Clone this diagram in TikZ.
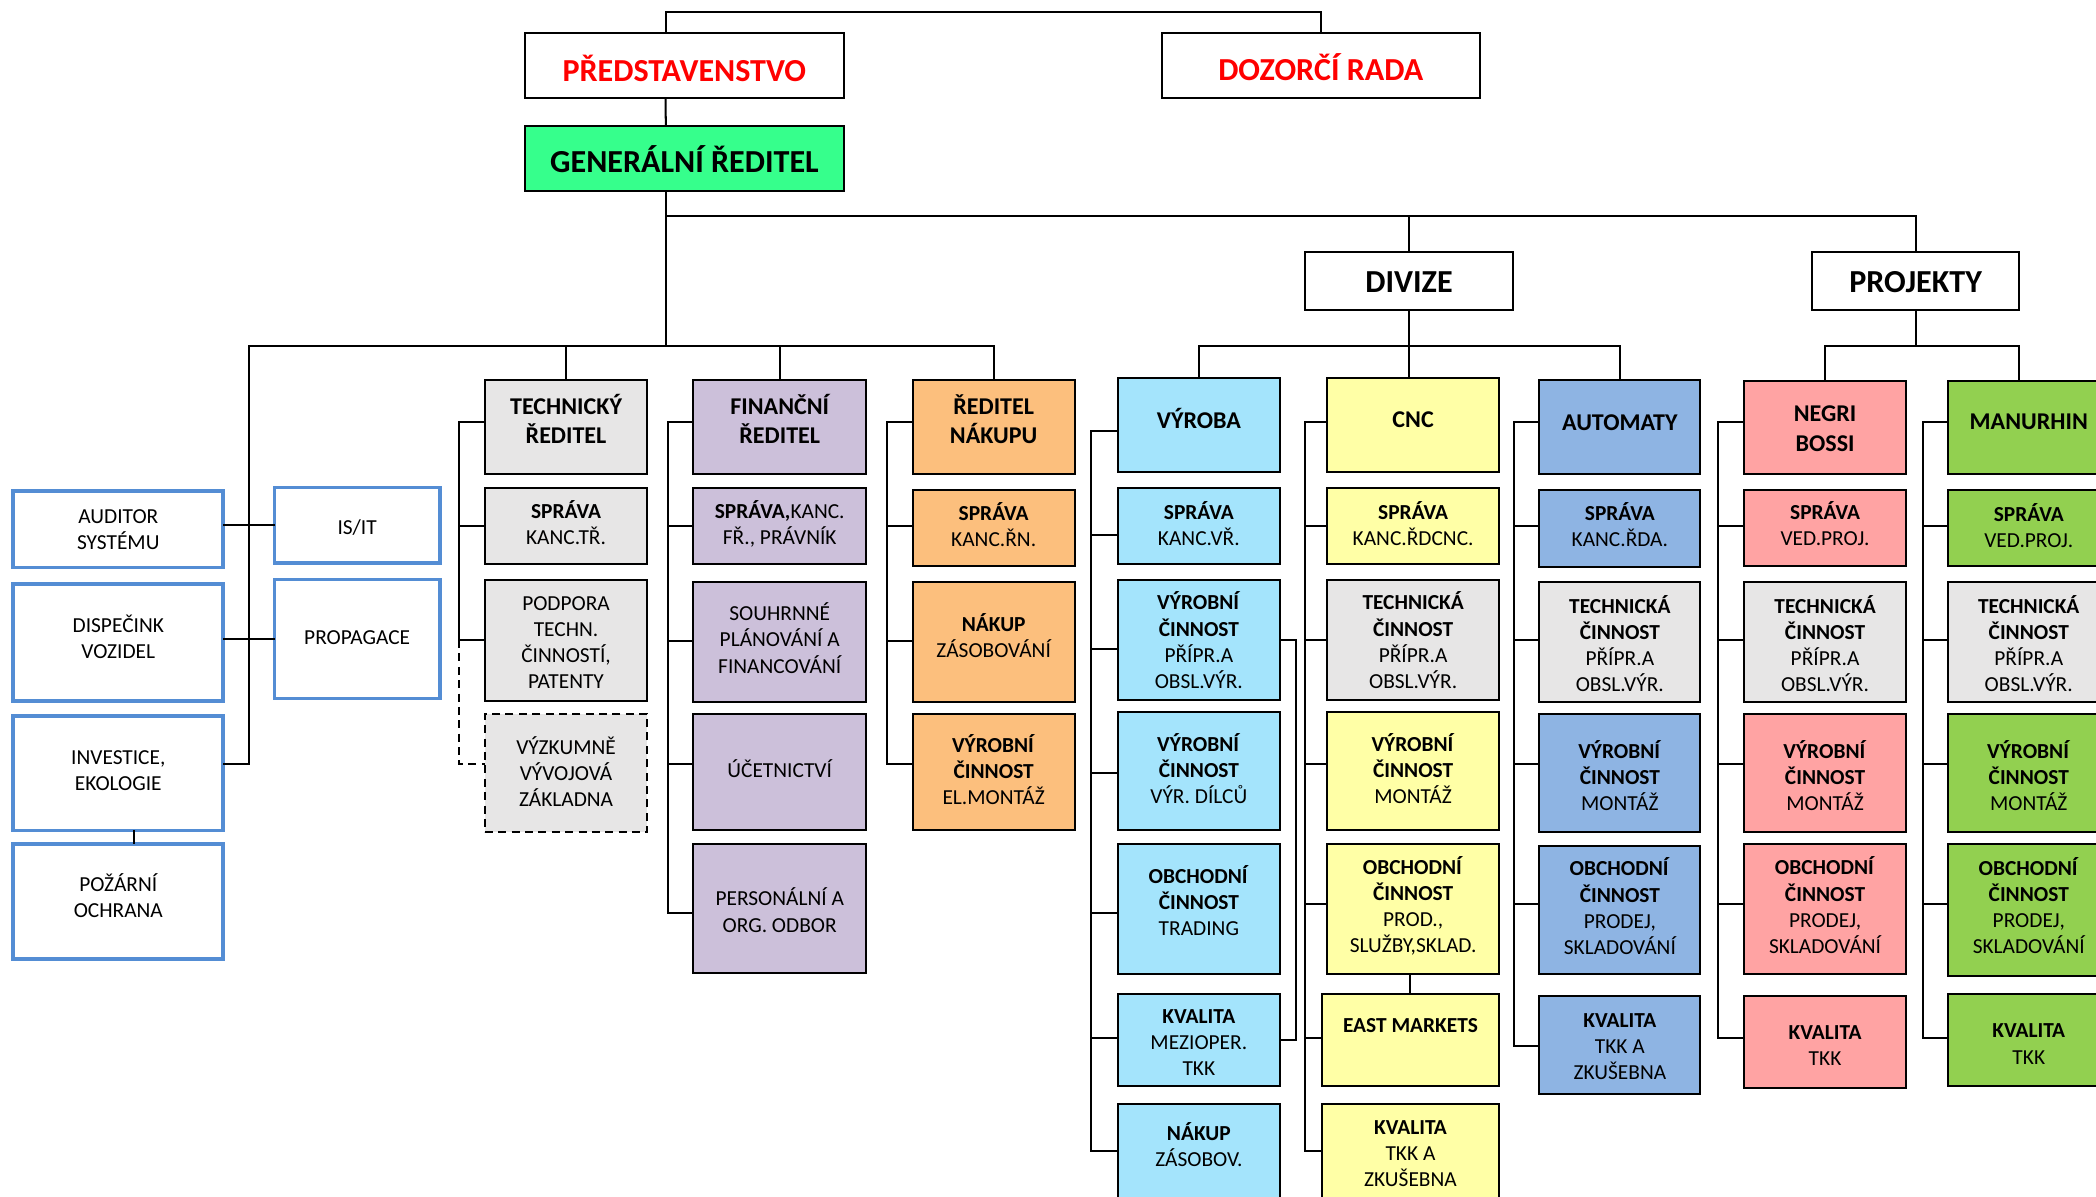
\documentclass[tikz,border=0pt]{standalone}
\usepackage{fontspec}
\setmainfont{Carlito}
\definecolor{cgray}{RGB}{231,230,230}
\definecolor{clav}{RGB}{204,192,218}
\definecolor{corange}{RGB}{252,191,125}
\definecolor{clblue}{RGB}{164,228,252}
\definecolor{cyel}{RGB}{255,255,166}
\definecolor{cblue}{RGB}{142,180,227}
\definecolor{cpink}{RGB}{255,163,163}
\definecolor{cgreen}{RGB}{146,208,80}
\definecolor{cgen}{RGB}{54,255,140}
\definecolor{cedge}{RGB}{84,141,212}
\definecolor{cred}{RGB}{255,0,0}
% #1 box style, #2 name, #3 x1, #4 y1, #5 x2, #6 y2, #7 text dy, #8 text style, #9 text
\newcommand\bx[9]{%
 \pgfmathsetmacro\bxcx{(#3+#5)/2}%
 \pgfmathsetmacro\bxcy{(#4+#6)/2}%
 \pgfmathsetmacro\bxw{#5-#3}%
 \pgfmathsetmacro\bxh{#6-#4}%
 \node[#1,minimum width=\bxw pt,minimum height=\bxh pt] (#2) at (\bxcx,\bxcy) {};%
 \node[txt,#8] at ([yshift=#7pt]#2.center) {#9};}
\begin{document}
\begin{tikzpicture}[x=1pt,y=-1pt,
  box/.style={draw=black,line width=1.5pt,rectangle,inner sep=0pt,outer sep=0pt},
  tbox/.style={box,fill=white},
  bbox/.style={rectangle,draw=cedge,line width=2.8pt,fill=white,inner sep=0pt,outer sep=0pt},
  gbox/.style={box,fill=cgray},
  lbox/.style={box,fill=clav},
  obox/.style={box,fill=corange},
  vbox/.style={box,fill=clblue},
  ybox/.style={box,fill=cyel},
  abox/.style={box,fill=cblue},
  pbox/.style={box,fill=cpink},
  mbox/.style={box,fill=cgreen},
  txt/.style={inner sep=0pt,align=center,font=\fontsize{16}{19.5}\selectfont},
  hd/.style={font=\fontsize{18}{22}\selectfont\bfseries},
  bd/.style={font=\fontsize{16}{19.5}\selectfont\bfseries},
  ttl/.style={font=\fontsize{24}{29}\selectfont\bfseries,text=cred},
  ttlb/.style={font=\fontsize{24}{29}\selectfont\bfseries},
  ln/.style={draw=black,line width=1.5pt}]
\useasboundingbox (0,0) rectangle (1568,895);
\fill[white] (0,0) rectangle (1568,895);
\clip (0,0) rectangle (1568,895);

% ---------- top ----------
\bx{tbox}{pred}{392.6}{24.9}{631.2}{73.5}{-2}{ttl}{PŘEDSTAVENSTVO}
\bx{tbox}{doz}{869}{24.9}{1107.1}{73.5}{-1}{ttl}{DOZORČÍ RADA}
\bx{tbox,fill=cgen}{gen}{392.6}{94}{631.5}{142.6}{-1}{ttlb}{GENERÁLNÍ ŘEDITEL}
\bx{tbox}{div}{976.6}{188.3}{1131.6}{231.9}{-1}{ttlb}{DIVIZE}
\bx{tbox}{proj}{1355.6}{188.3}{1510.5}{231.9}{-1}{ttlb}{PROJEKTY}

% ---------- left blue boxes ----------
\bx{bbox}{aud}{10}{367.3}{167}{424.5}{0}{}{AUDITOR\\SYSTÉMU}
\bx{bbox}{disp}{10}{436.6}{167}{524.5}{4}{}{DISPEČINK\\VOZIDEL}
\bx{bbox}{inv}{10}{535.4}{167}{621.2}{2}{}{INVESTICE,\\EKOLOGIE}
\bx{bbox}{poz}{10}{631.4}{167}{717.3}{4}{}{POŽÁRNÍ\\OCHRANA}
\bx{bbox}{isit}{205.4}{364.7}{329}{420.9}{-2}{}{IS/IT}
\bx{bbox}{prop}{205.4}{433.6}{329}{522.6}{1}{}{PROPAGACE}

% ---------- technical ----------
\bx{gbox}{tr}{362.8}{284.5}{484.1}{354.9}{6.5}{hd}{TECHNICKÝ\\ŘEDITEL}
\bx{gbox}{ts}{362.8}{365.3}{484.1}{422.1}{2.5}{}{\textbf{SPRÁVA}\\KANC.TŘ.}
\bx{gbox}{tp}{362.8}{433.6}{484.1}{524.1}{-2}{}{PODPORA\\TECHN.\\ČINNOSTÍ,\\PATENTY}
\bx{gbox,dashed,dash pattern=on 6pt off 4pt}{tv}{362.8}{533.9}{484.1}{622.6}{1}{}{VÝZKUMNĚ\\VÝVOJOVÁ\\ZÁKLADNA}

% ---------- financial ----------
\bx{lbox}{fr}{518.4}{284.5}{648.2}{354.9}{6.5}{hd}{FINANČNÍ\\ŘEDITEL}
\bx{lbox}{fs}{518.4}{365.3}{648.2}{422.1}{1.5}{}{\textbf{SPRÁVA,}KANC.\\FŘ., PRÁVNÍK}
\bx{lbox}{fsp}{518.4}{435.4}{648.2}{525.3}{3}{}{SOUHRNNÉ\\PLÁNOVÁNÍ A\\FINANCOVÁNÍ}
\bx{lbox}{fu}{518.4}{534.2}{648.2}{621.2}{3}{}{ÚČETNICTVÍ}
\bx{lbox}{fp}{518.4}{631.5}{648.2}{728.2}{-1}{}{PERSONÁLNÍ A\\ORG. ODBOR}

% ---------- purchasing ----------
\bx{obox}{rn}{682.7}{284.5}{804}{354.9}{6}{hd}{ŘEDITEL\\NÁKUPU}
\bx{obox}{rs}{682.7}{366.8}{804}{423.6}{3}{}{\textbf{SPRÁVA}\\KANC.ŘN.}
\bx{obox}{rnk}{682.7}{435.4}{804}{525.3}{5}{}{\textbf{NÁKUP}\\ZÁSOBOVÁNÍ}
\bx{obox}{rv}{682.7}{534.2}{804}{621.2}{2}{}{\textbf{VÝROBNÍ}\\\textbf{ČINNOST}\\EL.MONTÁŽ}

% ---------- VÝROBA ----------
\bx{vbox}{vy}{836.1}{283}{957.6}{353.4}{5}{hd}{VÝROBA}
\bx{vbox}{vs}{836.1}{364.8}{957.6}{422.2}{2}{}{\textbf{SPRÁVA}\\KANC.VŘ.}
\bx{vbox}{vp}{836.1}{433.9}{957.6}{523.9}{0}{}{\textbf{VÝROBNÍ}\\\textbf{ČINNOST}\\PŘÍPR.A\\OBSL.VÝR.}
\bx{vbox}{vd}{836.1}{532.4}{957.6}{621.2}{2}{}{\textbf{VÝROBNÍ}\\\textbf{ČINNOST}\\VÝR. DÍLCŮ}
\bx{vbox}{vo}{836.1}{631.4}{957.6}{728.9}{6.5}{}{\textbf{OBCHODNÍ}\\\textbf{ČINNOST}\\TRADING}
\bx{vbox}{vk}{836.1}{743.4}{957.6}{812.5}{-2}{}{\textbf{KVALITA}\\MEZIOPER.\\TKK}
\bx{vbox}{vn}{836.1}{826.2}{957.6}{900}{7}{}{\textbf{NÁKUP}\\ZÁSOBOV.}

% ---------- CNC ----------
\bx{ybox}{cn}{992.7}{283}{1121.6}{353.4}{4}{hd}{CNC}
\bx{ybox}{cs}{992.7}{364.8}{1121.6}{422.2}{2}{}{\textbf{SPRÁVA}\\KANC.ŘDCNC.}
\bx{gbox}{ct}{992.7}{433.9}{1121.6}{523.9}{0}{}{\textbf{TECHNICKÁ}\\\textbf{ČINNOST}\\PŘÍPR.A\\OBSL.VÝR.}
\bx{ybox}{cv}{992.7}{532.4}{1121.6}{621.2}{2}{}{\textbf{VÝROBNÍ}\\\textbf{ČINNOST}\\MONTÁŽ}
\bx{ybox}{co}{992.7}{631.4}{1121.6}{728.9}{2.5}{}{\textbf{OBCHODNÍ}\\\textbf{ČINNOST}\\PROD.,\\SLUŽBY,SKLAD.}
\bx{ybox}{ce}{988.7}{743.4}{1121.6}{812.5}{11}{bd}{EAST MARKETS}
\bx{ybox}{ck}{988.7}{826.2}{1121.6}{900}{0}{}{\textbf{KVALITA}\\TKK A\\ZKUŠEBNA}

% ---------- AUTOMATY ----------
\bx{abox}{au}{1151.5}{284.3}{1272.1}{354.8}{3}{hd}{AUTOMATY}
\bx{abox}{as}{1151.5}{366.6}{1272.1}{424}{3}{}{\textbf{SPRÁVA}\\KANC.ŘDA.}
\bx{gbox}{at}{1151.5}{435.2}{1272.1}{525.4}{-1}{}{\textbf{TECHNICKÁ}\\\textbf{ČINNOST}\\PŘÍPR.A\\OBSL.VÝR.}
\bx{abox}{av}{1151.5}{534.4}{1272.1}{622.7}{-1.5}{}{\textbf{VÝROBNÍ}\\\textbf{ČINNOST}\\MONTÁŽ}
\bx{abox}{ao}{1151.5}{632.9}{1272.1}{728.9}{3}{}{\textbf{OBCHODNÍ}\\\textbf{ČINNOST}\\PRODEJ,\\SKLADOVÁNÍ}
\bx{abox}{ak}{1151.5}{744.9}{1272.1}{818.5}{-1}{}{\textbf{KVALITA}\\TKK A\\ZKUŠEBNA}

% ---------- NEGRI BOSSI ----------
\bx{pbox}{nb}{1304.7}{284.8}{1425.9}{354.6}{-1}{hd}{NEGRI\\BOSSI}
\bx{pbox}{ns}{1304.7}{366.6}{1425.9}{423.4}{3}{}{\textbf{SPRÁVA}\\VED.PROJ.}
\bx{gbox}{nt}{1304.7}{435.2}{1425.9}{525.4}{-1}{}{\textbf{TECHNICKÁ}\\\textbf{ČINNOST}\\PŘÍPR.A\\OBSL.VÝR.}
\bx{pbox}{nv}{1304.7}{534.4}{1425.9}{622.7}{-1.5}{}{\textbf{VÝROBNÍ}\\\textbf{ČINNOST}\\MONTÁŽ}
\bx{pbox}{no}{1304.7}{631.4}{1425.9}{728.9}{3}{}{\textbf{OBCHODNÍ}\\\textbf{ČINNOST}\\PRODEJ,\\SKLADOVÁNÍ}
\bx{pbox}{nk}{1304.7}{745.1}{1425.9}{813.7}{-3}{}{\textbf{KVALITA}\\TKK}

% ---------- MANURHIN ----------
\bx{mbox}{mb}{1457.1}{284.8}{1578.3}{354.6}{4}{hd}{MANURHIN}
\bx{mbox}{ms}{1457.1}{366.6}{1578.3}{423.4}{2}{}{\textbf{SPRÁVA}\\VED.PROJ.}
\bx{gbox}{mt}{1457.1}{435.2}{1578.3}{525.4}{-1}{}{\textbf{TECHNICKÁ}\\\textbf{ČINNOST}\\PŘÍPR.A\\OBSL.VÝR.}
\bx{mbox}{mv}{1457.1}{534.4}{1578.3}{622.7}{-1.5}{}{\textbf{VÝROBNÍ}\\\textbf{ČINNOST}\\MONTÁŽ}
\bx{mbox}{mo}{1457.1}{631.4}{1578.3}{730}{3}{}{\textbf{OBCHODNÍ}\\\textbf{ČINNOST}\\PRODEJ,\\SKLADOVÁNÍ}
\bx{mbox}{mk}{1457.1}{743.6}{1578.3}{812.5}{-3}{}{\textbf{KVALITA}\\TKK}

% ---------- connectors: top ----------
\draw[ln] ([xshift=-13.9pt]pred.north) -- ++(0,-16.2) -| (doz.north);
\draw[ln] ([xshift=-13.9pt]pred.south) -- ([xshift=-14pt]gen.north);
\draw[ln] ([xshift=-14pt]gen.south) -- ++(0,116.3);
\draw[ln] ([xshift=-14pt]gen.south) ++(0,19) coordinate (j1) -| (proj.north);
\draw[ln] (div.north) -- (div.north |- j1);
\coordinate (lbl) at (186.3,258.9);
\draw[ln] ([yshift=6.5pt]inv.east) -| (lbl) -| (rn.north);
\draw[ln] (tr.north) -- (tr.north |- lbl);
\draw[ln] (fr.north) -- (fr.north |- lbl);
\draw[ln] (isit.west) -- (isit.west -| aud.east);
\draw[ln] (prop.west) -- (prop.west -| disp.east);
\draw[ln] ([xshift=11.7pt]inv.south) -- ([xshift=11.7pt]poz.north);

% technical
\draw[ln] ([yshift=3.8pt]tr.west) -- ++(-19.5,0) |- (tp.west);
\draw[ln] (ts.west) -- ++(-19.5,0);
\draw[ln,dashed,dash pattern=on 6pt off 4pt] (tp.west) ++(-19.5,0) |- ([yshift=6.5pt]tv.west);
% financial
\draw[ln] ([yshift=3.8pt]fr.west) -- ++(-18.9,0) |- ([yshift=-3.4pt]fp.west);
\draw[ln] (fs.west) -- ++(-18.9,0);
\draw[ln] ([yshift=1.2pt]fsp.west) -- ++(-18.9,0);
\draw[ln] ([yshift=5.9pt]fu.west) -- ++(-18.9,0);
% purchasing
\draw[ln] ([yshift=3.8pt]rn.west) -- ++(-19.1,0) |- ([yshift=5.9pt]rv.west);
\draw[ln] ([yshift=1.8pt]rs.west) -- ++(-19.1,0);
\draw[ln] ([yshift=1.2pt]rnk.west) -- ++(-19.1,0);

% divisions drops
\draw[ln] (vy.north) -- ++(0,-24.1) -| (au.north);
\draw[ln] (div.south) -- (div.south |- cn.north);
\draw[ln] (nb.north) -- ++(0,-25.9) -| ([xshift=-7pt]mb.north);
\draw[ln] (proj.south) -- ++(0,27);

% VÝROBA
\draw[ln] ([yshift=-4pt]vy.west) -- ++(-19.9,0) |- ([yshift=2pt]vn.west);
\draw[ln] ([yshift=-6.5pt]vs.west) -- ++(-19.9,0);
\draw[ln] ([yshift=-6.4pt]vp.west) -- ++(-19.9,0);
\draw[ln] ([yshift=-1.7pt]vd.west) -- ++(-19.9,0);
\draw[ln] ([yshift=-3.2pt]vo.west) -- ++(-19.9,0);
\draw[ln] ([yshift=1.2pt]vk.west) -- ++(-19.9,0);
\draw[ln] (vp.east) -- ++(12.2,0) |- (vk.east);

% CNC
\draw[ln] ([yshift=2.7pt]cn.west) -- ++(-16.2,0) |- ([yshift=2pt]ck.west);
\draw[ln] (cs.west) -- ++(-16.2,0);
\draw[ln] (ct.west) -- ++(-16.2,0);
\draw[ln] ([yshift=5.2pt]cv.west) -- ++(-16.2,0);
\draw[ln] ([yshift=3.7pt]co.west) -- ++(-16.2,0);
\draw[ln] ([yshift=1.2pt]ce.west) -- ++(-12.2,0);
\draw[ln] (ce.north) -- (ce.north |- co.south);

% AUTOMATY
\draw[ln] ([yshift=4pt]au.west) -- ++(-19.2,0) |- ([yshift=-0.6pt]ak.west);
\draw[ln] ([yshift=2pt]as.west) -- ++(-19.2,0);
\draw[ln] ([yshift=1.5pt]at.west) -- ++(-19.2,0);
\draw[ln] ([yshift=7pt]av.west) -- ++(-19.2,0);
\draw[ln] ([yshift=4.4pt]ao.west) -- ++(-19.2,0);

% NEGRI BOSSI
\draw[ln] ([yshift=4.2pt]nb.west) -- ++(-19.7,0) |- ([yshift=3.1pt]nk.west);
\draw[ln] ([yshift=1.7pt]ns.west) -- ++(-19.7,0);
\draw[ln] ([yshift=1.5pt]nt.west) -- ++(-19.7,0);
\draw[ln] ([yshift=7pt]nv.west) -- ++(-19.7,0);
\draw[ln] ([yshift=3.7pt]no.west) -- ++(-19.7,0);

% MANURHIN
\draw[ln] ([yshift=4.2pt]mb.west) -- ++(-18.9,0) |- ([yshift=1.75pt]mk.west);
\draw[ln] ([yshift=1.7pt]ms.west) -- ++(-18.9,0);
\draw[ln] ([yshift=1.5pt]mt.west) -- ++(-18.9,0);
\draw[ln] ([yshift=7pt]mv.west) -- ++(-18.9,0);
\draw[ln] ([yshift=4.2pt]mo.west) -- ++(-18.9,0);
\end{tikzpicture}
\end{document}
